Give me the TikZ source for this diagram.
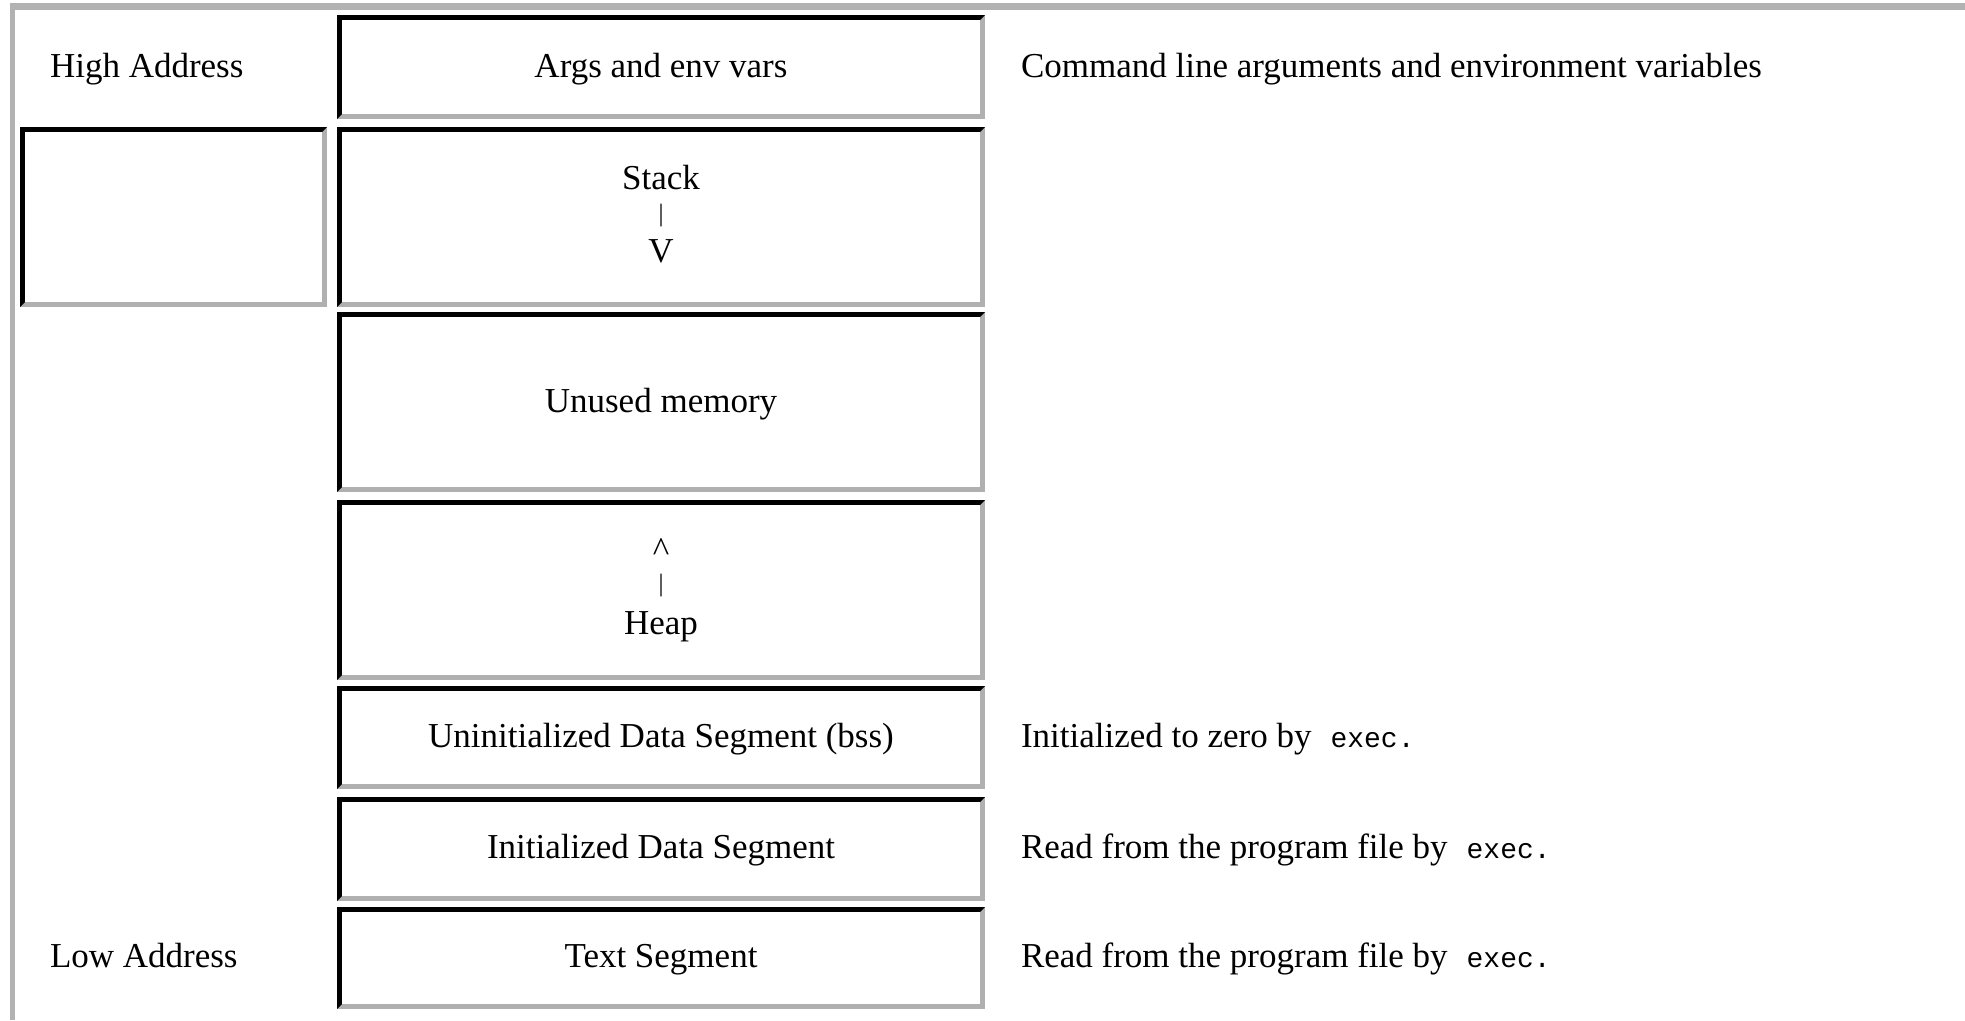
\documentclass[tikz,border=0pt]{standalone}
\usepackage{fontspec}
\setmainfont{Liberation Serif}
\setmonofont{Liberation Mono}
\definecolor{cellgray}{RGB}{176,176,176}
\definecolor{framegray}{RGB}{178,178,178}
\tikzset{
  cellbox/.style={rectangle, inner sep=0pt, outer sep=0pt, draw=none,
    path picture={
      \fill[cellgray] (path picture bounding box.south west) rectangle (path picture bounding box.north east);
      \fill[black] (path picture bounding box.south west) -- (path picture bounding box.north west)
        -- (path picture bounding box.north east) -- ([shift={(-5pt,-5pt)}]path picture bounding box.north east)
        -- ([shift={(5pt,-5pt)}]path picture bounding box.north west) -- ([shift={(5pt,5pt)}]path picture bounding box.south west) -- cycle;
      \fill[white] ([shift={(5pt,5pt)}]path picture bounding box.south west) rectangle ([shift={(-5pt,-5pt)}]path picture bounding box.north east);
    }},
  midcell/.style={cellbox, minimum width=648pt},
  lbl/.style={inner sep=0pt, outer sep=0pt, anchor=base, font=\fontsize{35}{42}\selectfont},
  lbll/.style={lbl, anchor=base west},
  barlbl/.style={inner sep=0pt, outer sep=0pt, anchor=center, font=\fontsize{25}{30}\selectfont},
}
\newcommand{\mexec}{\hspace{19pt}{\fontsize{28}{34}\selectfont\ttfamily exec.}}
\begin{document}
\begin{tikzpicture}[x=1pt,y=-1pt]
\useasboundingbox (0,0) rectangle (1965,1020);
% outer table frame (top and left visible)
\fill[framegray] (10,3) rectangle (1965,10);
\fill[framegray] (10,3) rectangle (15,1020);
% left column
\node[cellbox, minimum width=307pt, minimum height=180pt] (leftcell) at (173.5,217) {};
\node[lbll] (high) at (50,77) {High Address};
\node[lbll] (low) at (50,967) {Low Address};
% middle column
\node[midcell, minimum height=104pt] (args) at (661,67) {};
\node[midcell, minimum height=180pt] (stack) at (661,217) {};
\node[midcell, minimum height=180pt] (unused) at (661,402) {};
\node[midcell, minimum height=180pt] (heap) at (661,590) {};
\node[midcell, minimum height=103pt] (bss) at (661,737.5) {};
\node[midcell, minimum height=104pt] (data) at (661,849) {};
\node[midcell, minimum height=102pt] (text) at (661,958) {};
\node[lbl] (argsT) at (661,77) {Args and env vars};
\node[lbl] (stackT) at (661,189) {Stack};
\node[barlbl] (stackBar) at (661,216) {|};
\node[lbl] (stackV) at (661,262) {V};
\node[lbl] (unusedT) at (661,412) {Unused memory};
\node[lbl] (heapUp) at (661,561) {\textasciicircum};
\node[barlbl] (heapBar) at (661,586) {|};
\node[lbl] (heapT) at (661,634) {Heap};
\node[lbl] (bssT) at (661,747) {Uninitialized Data Segment (bss)};
\node[lbl] (dataT) at (661,858) {Initialized Data Segment};
\node[lbl] (textT) at (661,967) {Text Segment};
% right column
\node[lbll] (argsD) at (1021,77) {Command line arguments and environment variables};
\node[lbll] (bssD) at (1021,747) {Initialized to zero by\mexec};
\node[lbll] (dataD) at (1021,858) {Read from the program file by\mexec};
\node[lbll] (textD) at (1021,967) {Read from the program file by\mexec};
\end{tikzpicture}
\end{document}
